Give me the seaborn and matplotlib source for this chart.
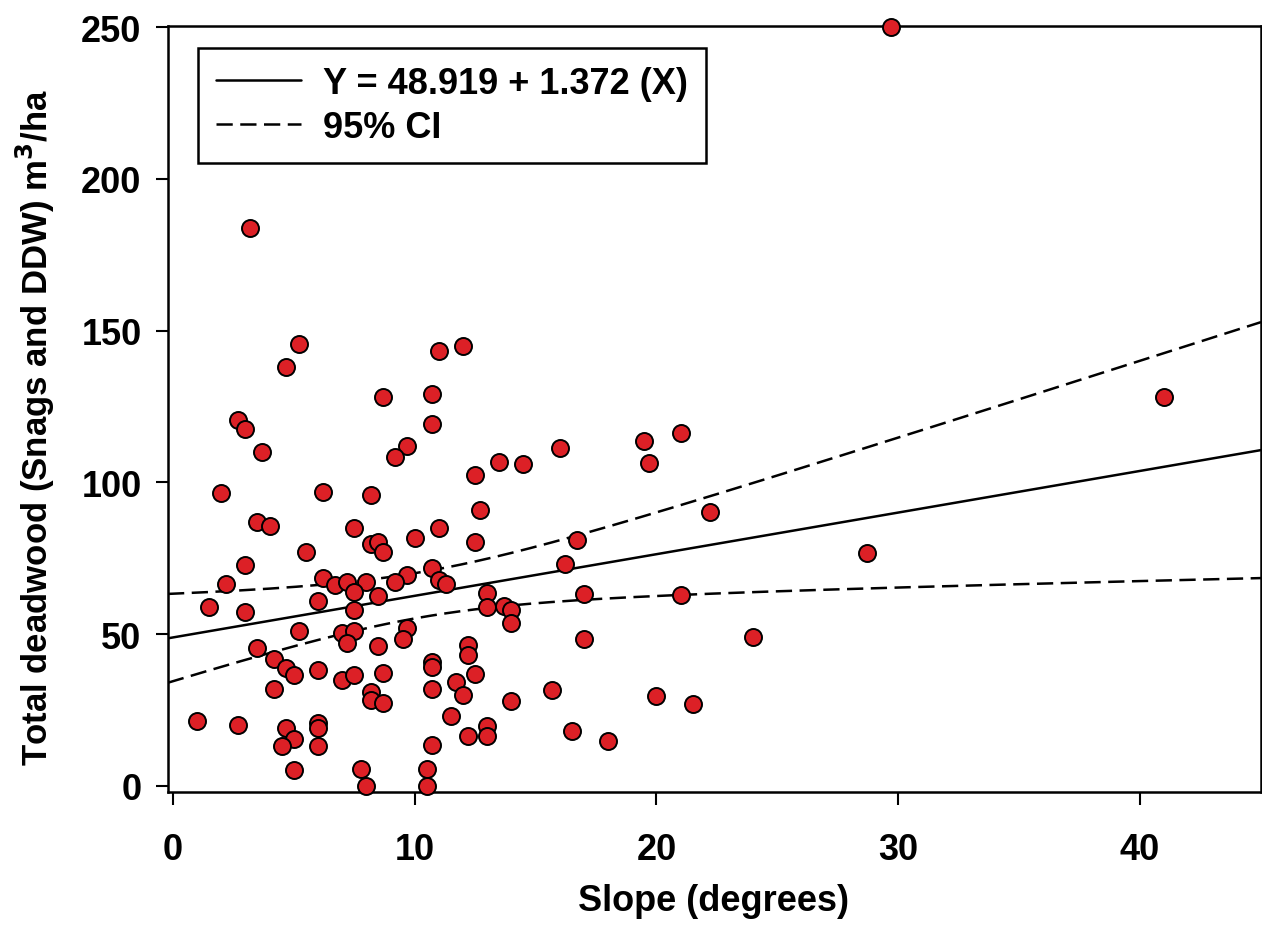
import numpy as np
import pandas as pd
import matplotlib
matplotlib.use("Agg")
import matplotlib.pyplot as plt
from matplotlib.lines import Line2D
import seaborn as sns

# ---- data ----
slope = [29.7, 41.0, 28.7, 24.0, 22.2, 21.0, 19.5, 19.7, 21.0, 20.0,
         21.5, 18.0, 16.5, 15.7, 17.0, 17.0, 16.7, 16.2, 16.0, 14.5,
         13.5, 12.5, 12.7, 11.0, 10.0, 12.5, 11.0, 12.0, 8.7, 10.7,
         10.7, 9.7, 9.2, 8.2, 5.2, 4.7, 2.7, 3.0, 3.7, 2.0,
         6.2, 3.5, 4.0, 7.5, 3.2, 5.5, 3.0, 2.2, 6.2, 6.7,
         7.2, 8.0, 7.5, 1.5, 3.0, 6.0, 7.5, 5.2, 7.0, 7.5,
         7.2, 3.5, 4.2, 4.7, 5.0, 6.0, 7.0, 7.5, 4.2, 1.0,
         2.7, 4.7, 6.0, 6.0, 5.0, 4.5, 6.0, 5.0, 8.2, 8.5,
         8.7, 10.7, 9.7, 9.2, 11.0, 11.3, 8.5, 13.0, 13.0, 13.7,
         14.0, 14.0, 9.7, 9.5, 8.5, 12.2, 12.2, 10.7, 10.7, 8.7,
         12.5, 11.7, 10.7, 8.2, 8.2, 8.7, 12.0, 14.0, 11.5, 13.0,
         12.2, 13.0, 10.7, 7.8, 10.5, 8.0, 10.5]
deadwood = [250.0, 128.0, 76.6, 49.0, 90.4, 116.2, 113.7, 106.3, 63.0, 29.7,
            27.0, 14.9, 18.0, 31.5, 48.3, 63.2, 80.9, 73.1, 111.4, 106.0,
            106.6, 102.4, 90.9, 85.0, 81.8, 80.5, 143.4, 145.0, 128.1, 129.1,
            119.4, 111.9, 108.4, 95.7, 145.6, 137.9, 120.7, 117.5, 109.9, 96.4,
            96.9, 87.0, 85.5, 85.1, 183.8, 77.0, 72.7, 66.6, 68.4, 66.3,
            67.1, 67.1, 63.8, 58.8, 57.3, 60.9, 58.0, 51.0, 50.3, 51.0,
            47.2, 45.6, 41.7, 38.9, 36.5, 38.1, 35.0, 36.6, 31.8, 21.4,
            20.0, 19.2, 20.8, 19.0, 15.6, 13.0, 13.1, 5.4, 79.7, 80.5,
            77.2, 71.8, 69.5, 67.3, 68.0, 66.7, 62.5, 63.7, 58.8, 59.2,
            57.9, 53.7, 52.2, 48.5, 46.1, 46.3, 43.1, 40.7, 39.2, 37.3,
            36.8, 34.2, 31.8, 31.1, 28.4, 27.3, 29.8, 28.1, 22.9, 19.8,
            16.5, 16.5, 13.6, 5.5, 5.5, 0.0, 0.0]

intercept = 48.919
coef = 1.372
eq_label = "Y = 48.919 + 1.372 (X)"
ci_label = "95% CI"
x_ticks = [0, 10, 20, 30, 40]
y_ticks = [0, 50, 100, 150, 200, 250]

df = pd.DataFrame({"slope": slope, "deadwood": deadwood})

# ---- regression line and 95% confidence band ----
xs = np.linspace(-0.2, 45, 300)
x_arr = np.asarray(slope)
y_arr = np.asarray(deadwood)
n = len(x_arr)
resid = y_arr - (intercept + coef * x_arr)
s = np.sqrt(np.sum(resid ** 2) / (n - 2))
xm = x_arr.mean()
sxx = np.sum((x_arr - xm) ** 2)
t = 1.98
yfit = intercept + coef * xs
half = t * s * np.sqrt(1.0 / n + (xs - xm) ** 2 / sxx)
lines = pd.DataFrame({"x": xs, "fit": yfit, "lo": yfit - half, "hi": yfit + half})

# ---- figure ----
sns.set_theme(style="ticks")
plt.rcParams["font.family"] = ["Liberation Sans", "DejaVu Sans"]
plt.rcParams["font.weight"] = "bold"
plt.rcParams["text.color"] = "black"
plt.rcParams["axes.labelcolor"] = "black"
plt.rcParams["xtick.color"] = "black"
plt.rcParams["ytick.color"] = "black"

DASH = (0, (6.5, 3.0))
LW = 1.8
FS = 26

W, H = 1262, 929
fig = plt.figure(figsize=(W / 100, H / 100), dpi=100)
ax = fig.add_axes([168 / W, (H - 793) / H, (1261 - 168) / W, (793 - 27) / H])

sns.lineplot(data=lines, x="x", y="fit", ax=ax, color="black", lw=LW)
sns.lineplot(data=lines, x="x", y="hi", ax=ax, color="black", lw=LW,
             linestyle=DASH)
sns.lineplot(data=lines, x="x", y="lo", ax=ax, color="black", lw=LW,
             linestyle=DASH)
sns.scatterplot(data=df, x="slope", y="deadwood", ax=ax, s=150,
                color="#DC2026", edgecolor="black", linewidth=1.4, zorder=5,
                clip_on=False)

ax.set_xlim(-0.2, 45)
ax.set_ylim(-2, 250.4)
ax.set_xticks(x_ticks)
ax.set_yticks(y_ticks)
ax.tick_params(axis="both", direction="out", length=9, width=1.5,
               color="black", labelsize=FS, labelcolor="black")
ax.tick_params(axis="x", pad=20)
ax.tick_params(axis="y", pad=10)
for lab in ax.get_xticklabels() + ax.get_yticklabels():
    lab.set_fontweight("bold")
for sp in ax.spines.values():
    sp.set_visible(True)
    sp.set_color("black")
    sp.set_linewidth(1.8)

ax.set_xlabel("Slope (degrees)", fontsize=FS, fontweight="bold", color="black")
ax.set_ylabel("Total deadwood (Snags and DDW) m$^\\mathbf{3}$/ha", fontsize=25,
              fontweight="bold", color="black")
ax.xaxis.set_label_coords((714 - 168) / 1093, (793 - 884) / 766)
ax.yaxis.set_label_coords((57 - 168) / 1093, (793 - 428) / 766)

handles = [Line2D([0], [0], color="black", lw=LW),
           Line2D([0], [0], color="black", lw=LW, linestyle=DASH)]
leg = ax.legend(handles, [eq_label, ci_label], loc="upper left",
                bbox_to_anchor=((198 - 168) / 1093, (793 - 49) / 766),
                borderaxespad=0, frameon=True, fancybox=False, shadow=False,
                handlelength=2.35, handletextpad=0.62,
                labelspacing=0.24, borderpad=0.5, framealpha=1,
                prop={"weight": "bold", "size": FS})
leg.get_frame().set_edgecolor("black")
leg.get_frame().set_linewidth(1.8)
for txt in leg.get_texts():
    txt.set_color("black")

fig.savefig("out.png", dpi=100, facecolor="white")
